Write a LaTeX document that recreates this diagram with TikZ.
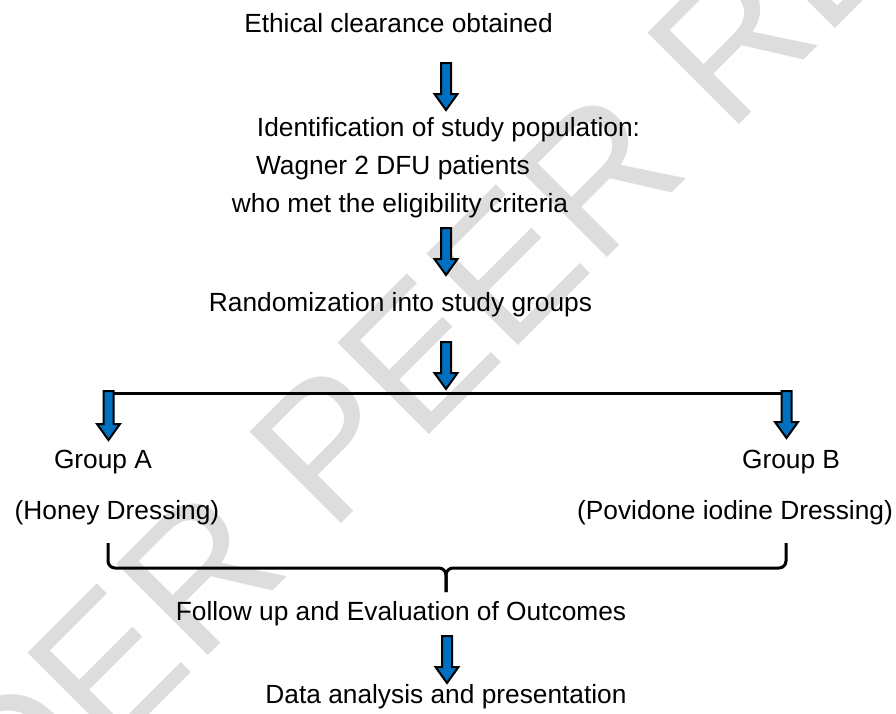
\documentclass[tikz,border=0pt]{standalone}
\usepackage{fontspec}
\setmainfont{Liberation Sans}
\definecolor{arrblue}{RGB}{0,112,192}
\definecolor{wm}{RGB}{221,221,221}
\tikzset{
  txt/.style={anchor=base,inner sep=0pt,font=\fontsize{26.3}{30}\selectfont},
  barrow/.pic={\draw[fill=arrblue,draw=black,line width=2pt,line join=miter]
     (-5,0) -- (5,0) -- (5,#1-16) -- (11.5,#1-16) -- (0,#1) -- (-11.5,#1-16) -- (-5,#1-16) -- cycle;},
  hline/.style={line width=3pt},
  bracestyle/.style={line width=3pt,rounded corners=7pt}
}
\begin{document}
\begin{tikzpicture}[x=1pt,y=-1pt]
\useasboundingbox (0,0) rectangle (896,713);
% watermark
\node[text=wm,rotate=45,inner sep=0pt,font=\fontsize{188}{188}\selectfont] (wmark) at (492,282) {UNDER PEER REVIEW};
% text nodes
\node[txt] (ethic) at (398.5,32) {Ethical clearance obtained};
\node[txt] (ident1) at (448.5,136) {Identification of study population:};
\node[txt] (ident2) at (393,174) {Wagner 2 DFU patients};
\node[txt] (ident3) at (400,212) {who met the eligibility criteria};
\node[txt] (rand) at (400.5,311) {Randomization into study groups};
\node[txt] (grpA) at (103,468) {Group A};
\node[txt] (honey) at (117,519) {(Honey Dressing)};
\node[txt] (grpB) at (791,468) {Group B};
\node[txt] (pov) at (735,519) {(Povidone iodine Dressing)};
\node[txt] (follow) at (401,620) {Follow up and Evaluation of Outcomes};
\node[txt] (data) at (446,703) {Data analysis and presentation};
% split line
\coordinate (splitL) at (103,393);
\coordinate (splitR) at (792,393);
\draw[hline] (splitL) -- (splitR);
% block arrows
\pic at (446,63) {barrow=47};
\pic at (446,228) {barrow=47};
\pic at (446,342) {barrow=47};
\pic at (108.5,391) {barrow=49};
\pic at (786.5,391) {barrow=47};
\pic at (447,636) {barrow=47};
% brace
\coordinate (brL) at (108,543);
\coordinate (brR) at (786,543);
\coordinate (brM) at (446,592);
\draw[bracestyle] (brL) -- (108,568) -- (446,568) -- (brM);
\draw[bracestyle] (brR) -- (786,568) -- (446,568) -- (brM);
\end{tikzpicture}
\end{document}
